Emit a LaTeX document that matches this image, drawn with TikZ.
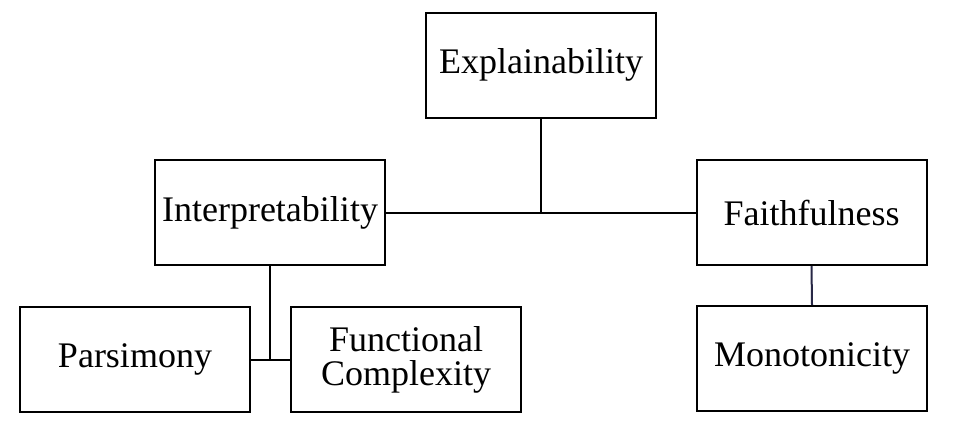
\documentclass[tikz,border=0pt]{standalone}
\usepackage{fontspec}
\setmainfont{Liberation Serif}
\definecolor{navyline}{RGB}{40,40,70}
\begin{document}
\begin{tikzpicture}[x=1pt,y=-1pt,
  box/.style={draw=black,line width=2pt,minimum width=230pt,minimum height=105pt,inner sep=0pt,align=center,font=\fontsize{36}{34}\selectfont},
  link/.style={draw=black,line width=2pt}]
\useasboundingbox (0,0) rectangle (968,440);
\node[box] (expl) at (541,65) {Explainability};
\node[box] (interp) at (270,212.5) {Interpretability};
\node[box] (faith) at (811.5,212.5) {Faithfulness};
\node[box] (pars) at (135,359.5) {Parsimony};
\node[box] (func) at (406,359.5) {Functional\\Complexity};
\node[box] (mono) at (812,358.5) {Monotonicity};
\coordinate (j1) at (expl.south |- interp.east);
\coordinate (j2) at (interp.south |- pars.east);
\draw[link] (interp.east) -- (faith.west);
\draw[link] (expl.south) -- (j1);
\draw[link] (interp.south) -- (j2);
\draw[link] (pars.east) -- (func.west);
\draw[link,draw=navyline] (faith.south) -- (mono.north);
\end{tikzpicture}
\end{document}
